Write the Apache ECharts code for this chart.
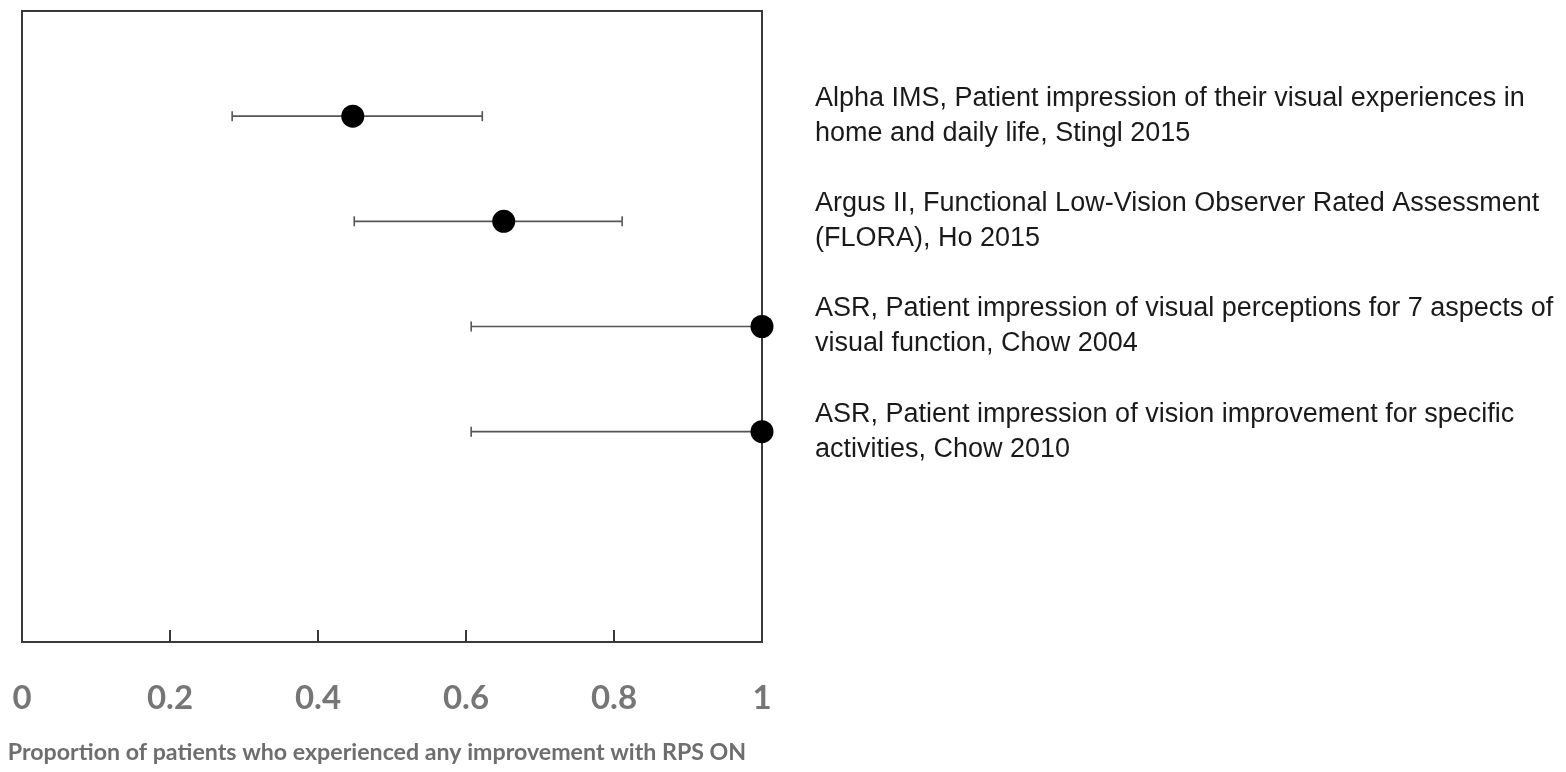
<!DOCTYPE html>
<html><head><meta charset="utf-8">
<script src="https://cdn.jsdelivr.net/npm/echarts@6/dist/echarts.min.js"></script>
<style>html,body{margin:0;padding:0;background:#fff}#c{width:1566px;height:772px}</style>
</head><body><div id="c"></div>
<script>
const studyLabels = [
  "Alpha IMS, Patient impression of their visual experiences in\nhome and daily life, Stingl 2015",
  "Argus II, Functional Low-Vision Observer Rated Assessment\n(FLORA), Ho 2015",
  "ASR, Patient impression of visual perceptions for 7 aspects of\nvisual function, Chow 2004",
  "ASR, Patient impression of vision improvement for specific\nactivities, Chow 2010"
];
const rowPositions = [1, 2, 3, 4];
const proportions = [0.447, 0.651, 1.0, 1.0];
const lowerCI = [0.284, 0.449, 0.607, 0.607];
const upperCI = [0.622, 0.811, 1.0, 1.0];
const xTicks = [0, 0.2, 0.4, 0.6, 0.8, 1];
const xTitle = "Proportion of patients who experienced any improvement with RPS ON";

const chart = echarts.init(document.getElementById('c'), null, {renderer: 'canvas'});
const errData = rowPositions.map((r, i) => [lowerCI[i], upperCI[i], r]);
const ptData = rowPositions.map((r, i) => [proportions[i], r]);

chart.setOption({
  backgroundColor: '#fff',
  animation: false,
  grid: {left: 22, right: 804, top: 11, bottom: 130, containLabel: false, outerBoundsMode: 'none',
         show: true, borderColor: '#3a3a3a', borderWidth: 2, backgroundColor: 'transparent'},
  xAxis: {
    type: 'value', min: 0, max: 1, interval: 0.2, position: 'bottom',
    axisLine: {show: false, onZero: false},
    axisTick: {show: true, inside: true, length: 12, lineStyle: {color: '#3a3a3a', width: 2}},
    splitLine: {show: false},
    axisLabel: {
      margin: 40, color: '#767676', fontFamily: 'Lato', fontWeight: 'bold', fontSize: 33,
      formatter: v => { const t = xTicks.find(x => Math.abs(x - v) < 1e-6); return t === undefined ? '' : String(t); }
    },
    name: xTitle, nameLocation: 'middle', nameGap: 99,
    nameTextStyle: {color: '#6e6e6e', fontFamily: 'Lato', fontWeight: 'bold', fontSize: 23.2, padding: [0, 30, 0, 0]}
  },
  yAxis: {
    type: 'value', min: 0, max: 6, interval: 1, inverse: true, position: 'right',
    axisLine: {show: false}, axisTick: {show: false}, splitLine: {show: false},
    axisLabel: {
      margin: 53, align: 'left', verticalAlign: 'middle', color: '#1a1a1a',
      fontFamily: '"Liberation Sans", Arial, sans-serif', fontSize: 27, lineHeight: 35,
      padding: [0, 0, 5, 0],
      formatter: v => { const i = rowPositions.indexOf(v); return i < 0 ? '' : studyLabels[i]; }
    }
  },
  series: [
    {
      type: 'custom',
      data: errData,
      renderItem: (params, api) => {
        const lo = api.coord([api.value(0), api.value(2)]);
        const hi = api.coord([api.value(1), api.value(2)]);
        const cap = 5;
        const st = {stroke: '#555', lineWidth: 1.6};
        return {type: 'group', children: [
          {type: 'line', shape: {x1: lo[0], y1: lo[1], x2: hi[0], y2: hi[1]}, style: st},
          {type: 'line', shape: {x1: lo[0], y1: lo[1] - cap, x2: lo[0], y2: lo[1] + cap}, style: st},
          {type: 'line', shape: {x1: hi[0], y1: hi[1] - cap, x2: hi[0], y2: hi[1] + cap}, style: st}
        ]};
      },
      z: 2
    },
    {
      type: 'scatter', data: ptData, symbol: 'circle', symbolSize: 23,
      itemStyle: {color: '#000', opacity: 1}, z: 5, clip: false
    }
  ]
});
</script></body></html>
